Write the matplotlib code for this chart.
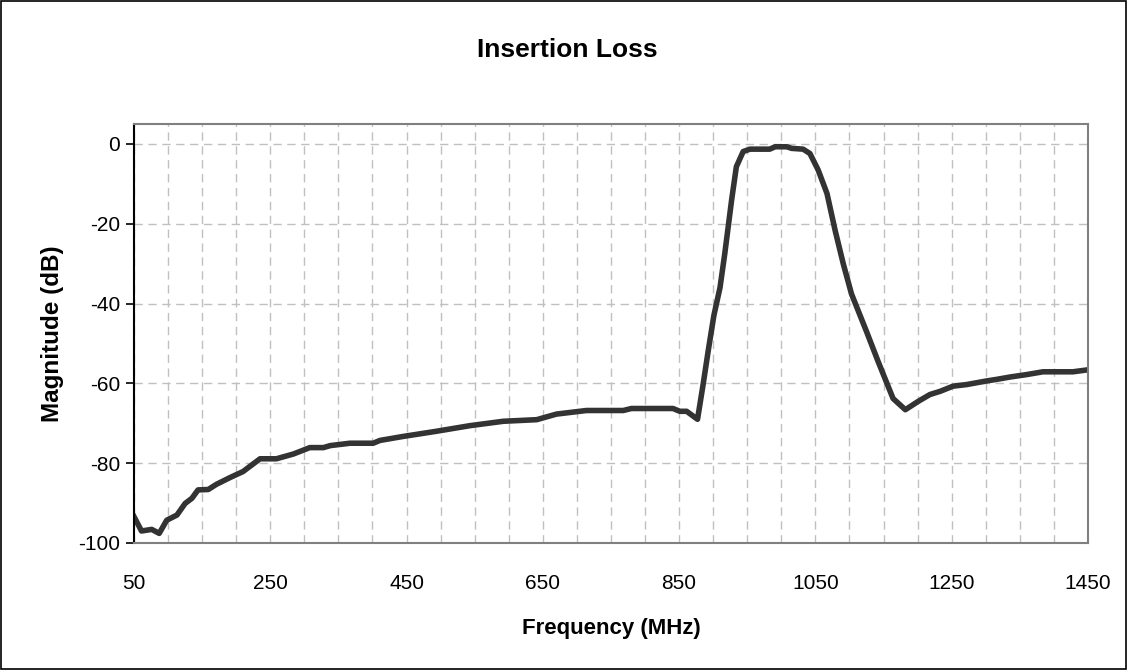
import matplotlib
matplotlib.use("Agg")
import matplotlib.pyplot as plt
from matplotlib.patches import Rectangle
from matplotlib.ticker import MultipleLocator

plt.rcParams['font.family'] = ['Liberation Sans', 'DejaVu Sans']
plt.rcParams['axes.unicode_minus'] = False

# frequency (MHz) and insertion loss (dB)
freq = [50, 61, 76, 87, 98, 113, 125, 135, 144, 159, 171, 191, 210, 235, 259,
        284, 308, 328, 338, 367, 401, 411, 445, 494, 543, 592, 641, 670, 714,
        768, 780, 841, 851, 861, 877, 885, 893, 901, 910, 917, 927, 934, 944,
        954, 983, 991, 1008, 1015, 1032, 1042, 1054, 1067, 1079, 1091, 1103,
        1125, 1142, 1155, 1164, 1182, 1201, 1218, 1233, 1252, 1272,
        1301, 1316, 1336, 1360, 1384, 1428, 1450]
mag = [-93.4, -97.0, -96.6, -97.6, -94.3, -93.0, -90.1, -88.8, -86.7, -86.6,
       -85.3, -83.6, -82.1, -78.9, -78.9, -77.7, -76.1, -76.1, -75.6, -75.0,
       -75.0, -74.3, -73.3, -72.0, -70.6, -69.5, -69.1, -67.7, -66.8, -66.8,
       -66.3, -66.3, -67.0, -67.0, -69.0, -60.5, -51.5, -43.0, -36.0, -27.5,
       -14.1, -5.7, -1.9, -1.3, -1.3, -0.7, -0.7, -1.1, -1.3, -2.4, -6.5,
       -12.4, -21.7, -30.1, -37.6, -47.0, -54.5, -60.0, -63.8,
       -66.6, -64.5, -62.8, -62.0, -60.7, -60.3, -59.4, -59.0, -58.4, -57.8,
       -57.1, -57.1, -56.6]

xticks = [50, 250, 450, 650, 850, 1050, 1250, 1450]
yticks = [0, -20, -40, -60, -80, -100]

fig = plt.figure(figsize=(11.28, 6.70), dpi=100)
ax = fig.add_axes([0.1188, 0.1896, 0.8457, 0.6253])

ax.plot(freq, mag, color="#333333", linewidth=4.0, solid_joinstyle="round")

ax.set_xlim(50, 1450)
ax.set_ylim(-100, 5)
ax.set_xticks(xticks)
ax.set_yticks(yticks)
ax.xaxis.set_minor_locator(MultipleLocator(50))
ax.grid(which="both", axis="x", color="#c0c0c0", linestyle=(0, (6, 4)), linewidth=1)
ax.grid(which="major", axis="y", color="#c0c0c0", linestyle=(0, (6, 4)), linewidth=1)
ax.set_axisbelow(True)

ax.tick_params(axis="x", which="both", length=0, pad=22, labelsize=15)
ax.tick_params(axis="y", length=6, width=1.2, direction="out", pad=4, labelsize=15)

for side in ["top", "right", "bottom"]:
    ax.spines[side].set_color("#808080")
    ax.spines[side].set_linewidth(1.5)
ax.spines["left"].set_color("black")
ax.spines["left"].set_linewidth(1.5)

ax.set_xlabel("Frequency (MHz)", fontsize=16, fontweight="bold", labelpad=18)
ax.set_ylabel("Magnitude (dB)", fontsize=17.5, fontweight="bold", labelpad=10)
fig.text(0.503, 0.925, "Insertion Loss", ha="center", va="center",
         fontsize=19, fontweight="bold")

fig.add_artist(Rectangle((0.0005, 0.001), 0.998, 0.997, transform=fig.transFigure,
                         fill=False, edgecolor="black", linewidth=1.2))

fig.savefig("out.png", dpi=100)
